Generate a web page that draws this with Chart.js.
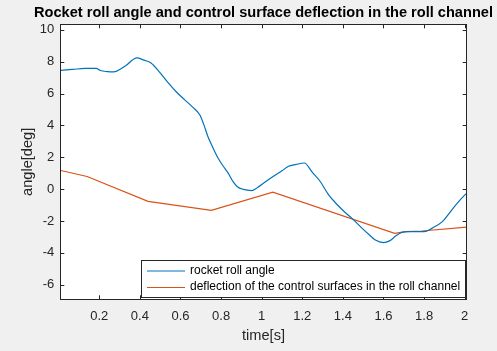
<!DOCTYPE html>
<html>
<head>
<meta charset="utf-8">
<script src="https://cdn.jsdelivr.net/npm/chart.js@4/dist/chart.umd.min.js"></script>
<style>
  html, body { margin: 0; padding: 0; background: #f0f0f0; }
  #wrap { width: 497px; height: 351px; }
</style>
</head>
<body>
<div id="wrap"><canvas id="myChart" width="497" height="351"></canvas></div>
<script>
// data
const rollTime = [0.01, 0.07, 0.13, 0.185, 0.205, 0.24, 0.27, 0.33, 0.385, 0.42, 0.455, 0.5, 0.54, 0.58, 0.62, 0.66, 0.695, 0.715, 0.735, 0.76, 0.785, 0.81, 0.835, 0.86, 0.88, 0.91, 0.95, 0.98, 1.01, 1.06, 1.1, 1.13, 1.17, 1.21, 1.25, 1.285, 1.33, 1.37, 1.41, 1.45, 1.49, 1.53, 1.56, 1.6, 1.63, 1.66, 1.69, 1.72, 1.76, 1.8, 1.84, 1.89, 1.94, 1.98, 2.01];
const rollAngle = [7.46, 7.52, 7.58, 7.58, 7.45, 7.38, 7.36, 7.75, 8.24, 8.1, 7.92, 7.3, 6.67, 6.1, 5.62, 5.15, 4.67, 4.05, 3.31, 2.6, 1.95, 1.45, 1.0, 0.45, 0.15, -0.02, -0.09, 0.1, 0.38, 0.82, 1.15, 1.42, 1.55, 1.64, 1.05, 0.54, -0.36, -0.95, -1.45, -1.9, -2.4, -2.87, -3.2, -3.36, -3.25, -2.95, -2.72, -2.67, -2.67, -2.67, -2.45, -2.04, -1.25, -0.65, -0.25];

const deflTime = [0.01, 0.14, 0.44, 0.752, 1.055, 1.655, 1.71, 1.79, 2.01];
const deflection = [1.17, 0.79, -0.77, -1.33, -0.19, -2.78, -2.67, -2.63, -2.39];

const xTicks = [0.2, 0.4, 0.6, 0.8, 1, 1.2, 1.4, 1.6, 1.8, 2];
const yTicks = [-6, -4, -2, 0, 2, 4, 6, 8, 10];

const axisColor = '#262626';
const fontName = '"Liberation Sans", Arial, Helvetica, sans-serif';

function toPoints(xs, ys) {
    return xs.map((x, i) => ({ x: x, y: ys[i] }));
}

// background, white axes box, inward ticks and legend (MATLAB look)
const matlabLook = {
    id: 'matlabLook',
    afterLayout(chart) {
        // centre the title over the axes box, like MATLAB does
        const a = chart.chartArea;
        const mid = (a.left + a.right) / 2;
        if (chart.titleBlock) {
            chart.titleBlock.left = mid - 245;
            chart.titleBlock.right = mid + 245;
        }
    },
    beforeDraw(chart) {
        const c = chart.ctx;
        const a = chart.chartArea;
        c.save();
        c.fillStyle = '#f0f0f0';
        c.fillRect(0, 0, chart.width, chart.height);
        c.fillStyle = '#ffffff';
        c.fillRect(a.left, a.top, a.right - a.left, a.bottom - a.top);
        c.restore();
    },
    afterDraw(chart) {
        const c = chart.ctx;
        const a = chart.chartArea;
        const xs = chart.scales.x, ys = chart.scales.y;
        const tl = 4;
        c.save();
        c.strokeStyle = axisColor;
        c.lineWidth = 1;
        c.beginPath();
        xTicks.forEach(v => {
            const px = Math.round(xs.getPixelForValue(v)) + 0.5;
            c.moveTo(px, a.bottom); c.lineTo(px, a.bottom - tl);
            c.moveTo(px, a.top); c.lineTo(px, a.top + tl);
        });
        yTicks.forEach(v => {
            const py = Math.round(ys.getPixelForValue(v)) + 0.5;
            c.moveTo(a.left, py); c.lineTo(a.left + tl, py);
            c.moveTo(a.right, py); c.lineTo(a.right - tl, py);
        });
        c.stroke();
        c.strokeRect(Math.round(a.left) + 0.5, Math.round(a.top) + 0.5,
            Math.round(a.right - a.left), Math.round(a.bottom - a.top));

        // legend box, bottom right inside the axes
        const box = { left: 141.5, top: 260.5, right: 465.5, bottom: 297.5 };
        c.fillStyle = '#ffffff';
        c.fillRect(box.left, box.top, box.right - box.left, box.bottom - box.top);
        c.strokeStyle = axisColor;
        c.strokeRect(box.left, box.top, box.right - box.left, box.bottom - box.top);
        c.font = '12px ' + fontName;
        c.textBaseline = 'middle';
        c.fillStyle = '#000000';
        const rows = [270.5, 287];
        chart.data.datasets.forEach((ds, i) => {
            c.strokeStyle = ds.borderColor;
            c.lineWidth = 1;
            c.beginPath();
            c.moveTo(147, rows[i] + 0.5);
            c.lineTo(185, rows[i] + 0.5);
            c.stroke();
            c.fillText(ds.label, 190, rows[i]);
        });
        c.restore();
    }
};

const ctx = document.getElementById('myChart').getContext('2d');
const myChart = new Chart(ctx, {
    type: 'line',
    data: {
        datasets: [{
            label: 'rocket roll angle',
            data: toPoints(rollTime, rollAngle),
            borderColor: '#0072BD',
            borderWidth: 1.2,
            pointRadius: 0,
            tension: 0.3,
            cubicInterpolationMode: 'monotone'
        }, {
            label: 'deflection of the control surfaces in the roll channel',
            data: toPoints(deflTime, deflection),
            borderColor: '#D95319',
            borderWidth: 1.2,
            pointRadius: 0,
            tension: 0
        }]
    },
    options: {
        responsive: false,
        animation: false,
        events: [],
        layout: { padding: { left: 0, right: 30.3, top: 0, bottom: 0 } },
        plugins: {
            legend: { display: false },
            tooltip: { enabled: false },
            title: {
                display: true,
                text: 'Rocket roll angle and control surface deflection in the roll channel',
                color: '#000000',
                font: { family: fontName, size: 14.6, weight: 'bold', lineHeight: 1.2 },
                padding: { top: 4, bottom: 2.8 },
                align: 'center'
            }
        },
        scales: {
            x: {
                type: 'linear',
                min: 0.008,
                max: 2.01,
                grid: { display: false, drawTicks: false },
                border: { display: false },
                afterBuildTicks(scale) {
                    scale.ticks = xTicks.map(v => ({ value: v }));
                },
                afterFit(scale) { scale.height = 51.7; },
                ticks: {
                    color: axisColor,
                    padding: 9,
                    maxRotation: 0,
                    font: { family: fontName, size: 13 },
                    callback: v => String(Math.round(v * 10) / 10)
                },
                title: {
                    display: true,
                    text: 'time[s]',
                    color: axisColor,
                    font: { family: fontName, size: 14.6 },
                    padding: { top: 6.5, bottom: 6.5 }
                }
            },
            y: {
                type: 'linear',
                min: -6.92,
                max: 10.35,
                grid: { display: false, drawTicks: false },
                border: { display: false },
                afterBuildTicks(scale) {
                    scale.ticks = yTicks.map(v => ({ value: v }));
                },
                afterFit(scale) { scale.width = 60.3; },
                ticks: {
                    color: axisColor,
                    padding: 6,
                    font: { family: fontName, size: 13 },
                    callback: v => String(v)
                },
                title: {
                    display: true,
                    text: 'angle[deg]',
                    color: axisColor,
                    font: { family: fontName, size: 14.6 },
                    padding: { top: 19, bottom: 19 }
                }
            }
        }
    },
    plugins: [matlabLook]
});
</script>
</body>
</html>
